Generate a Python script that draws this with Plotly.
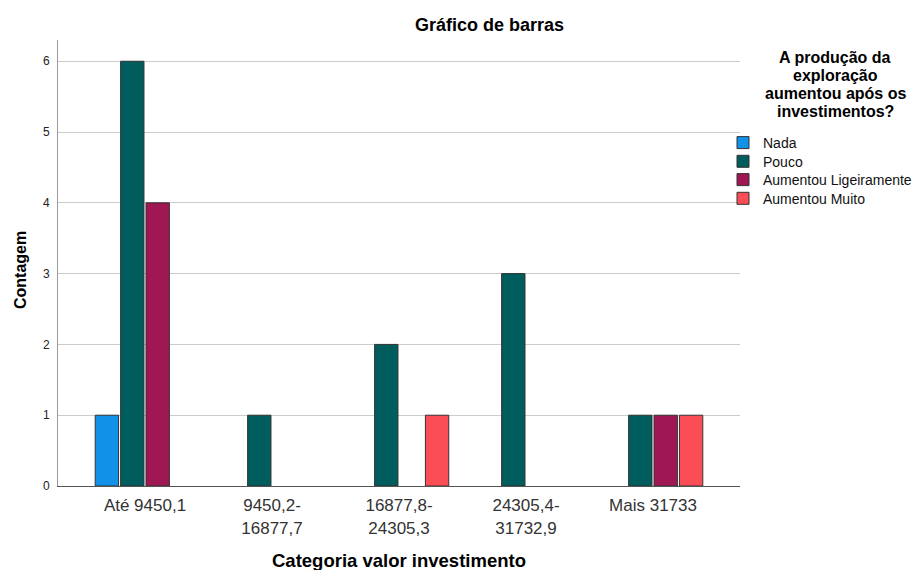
import plotly.graph_objects as go

categories = ["Até 9450,1", "9450,2-<br>16877,7", "16877,8-<br>24305,3", "24305,4-<br>31732,9", "Mais 31733"]
series_names = ["Nada", "Pouco", "Aumentou Ligeiramente", "Aumentou Muito"]
nada = [1, 0, 0, 0, 0]
pouco = [6, 1, 2, 3, 1]
aum_lig = [4, 0, 0, 0, 1]
aum_muito = [0, 0, 1, 0, 1]
colors = ["#1192e8", "#005d5d", "#9f1853", "#fa4d56"]
legend_title_lines = ["A produção da", "exploração", "aumentou após os", "investimentos?"]
y_ticks = [0, 1, 2, 3, 4, 5, 6]

FONT = "Arial, Liberation Sans, sans-serif"
x_idx = list(range(len(categories)))

# page has an 8px body margin; figure is sized to fill the remaining window
W, H = 915, 562
L, R, T, B = 50, 183, 32, 84
PH = H - T - B
PW = W - L - R

fig = go.Figure()
legend_ids = ["legend", "legend2", "legend3", "legend4"]
legend_y_px = [135, 153.7, 172, 190.7]
for name, vals, col, lid in zip(series_names, [nada, pouco, aum_lig, aum_muito], colors, legend_ids):
    fig.add_trace(go.Bar(
        x=x_idx, y=[v if v else None for v in vals], name=name, legend=lid,
        marker=dict(color=col, line=dict(color="#333333", width=1)),
    ))

legend_common = dict(xanchor="left", yanchor="middle", x=(727 - L) / PW,
                     font=dict(size=14, family=FONT, color="#111"),
                     itemwidth=30, indentation=-12, bgcolor="rgba(0,0,0,0)",
                     borderwidth=0)
legends = {}
for lid, py in zip(legend_ids, legend_y_px):
    legends[lid] = dict(legend_common, y=1 - (py - T) / PH)

fig.update_layout(
    width=W, height=H,
    margin=dict(l=L, r=R, t=T, b=B, autoexpand=False),
    paper_bgcolor="white", plot_bgcolor="white",
    barmode="group", bargap=0.2, bargroupgap=0.08,
    font=dict(family=FONT, color="#000"),
    showlegend=True,
    **legends,
    xaxis=dict(range=[-0.685, 4.685], tickvals=x_idx, ticktext=categories,
               tickfont=dict(size=17, color="#333"), showgrid=False,
               showline=True, linecolor="#555", linewidth=1, ticks="",
               ticklabelstandoff=4, automargin=False, fixedrange=True),
    yaxis=dict(range=[0, 6.3], tickvals=y_ticks,
               tickfont=dict(size=12, color="#222"), showgrid=True, gridcolor="#cccccc",
               gridwidth=1, showline=True, linecolor="#999", linewidth=1, ticks="",
               zeroline=False, ticklabelstandoff=5, automargin=False),
)

fig.add_annotation(text="<b>Gráfico de barras</b>", xref="paper", yref="paper",
                   x=(481 - L) / PW, y=1.0, yshift=15, xanchor="center", yanchor="middle",
                   showarrow=False, font=dict(size=18, family=FONT, color="#000"))
fig.add_annotation(text="<b>Categoria valor investimento</b>", xref="paper", yref="paper",
                   x=0.5, y=0.0, yshift=-74, xanchor="center", yanchor="middle",
                   showarrow=False, font=dict(size=18.5, family=FONT, color="#000"))
fig.add_annotation(text="<b>Contagem</b>", xref="paper", yref="paper",
                   x=0.0, xshift=-38, y=1 - (262 - T) / PH, xanchor="center", yanchor="middle",
                   textangle=-90, showarrow=False, font=dict(size=16, family=FONT, color="#000"))
for line, shift in zip(legend_title_lines, [-17.1, -35.3, -53.5, -71.7]):
    fig.add_annotation(text="<b>" + line + "</b>", xref="paper", yref="paper",
                       x=(827 - L) / PW, y=1.0, yshift=shift, borderpad=0,
                       xanchor="center", yanchor="middle", showarrow=False,
                       font=dict(size=16, family=FONT, color="#000"))

fig.write_html("out.html")
